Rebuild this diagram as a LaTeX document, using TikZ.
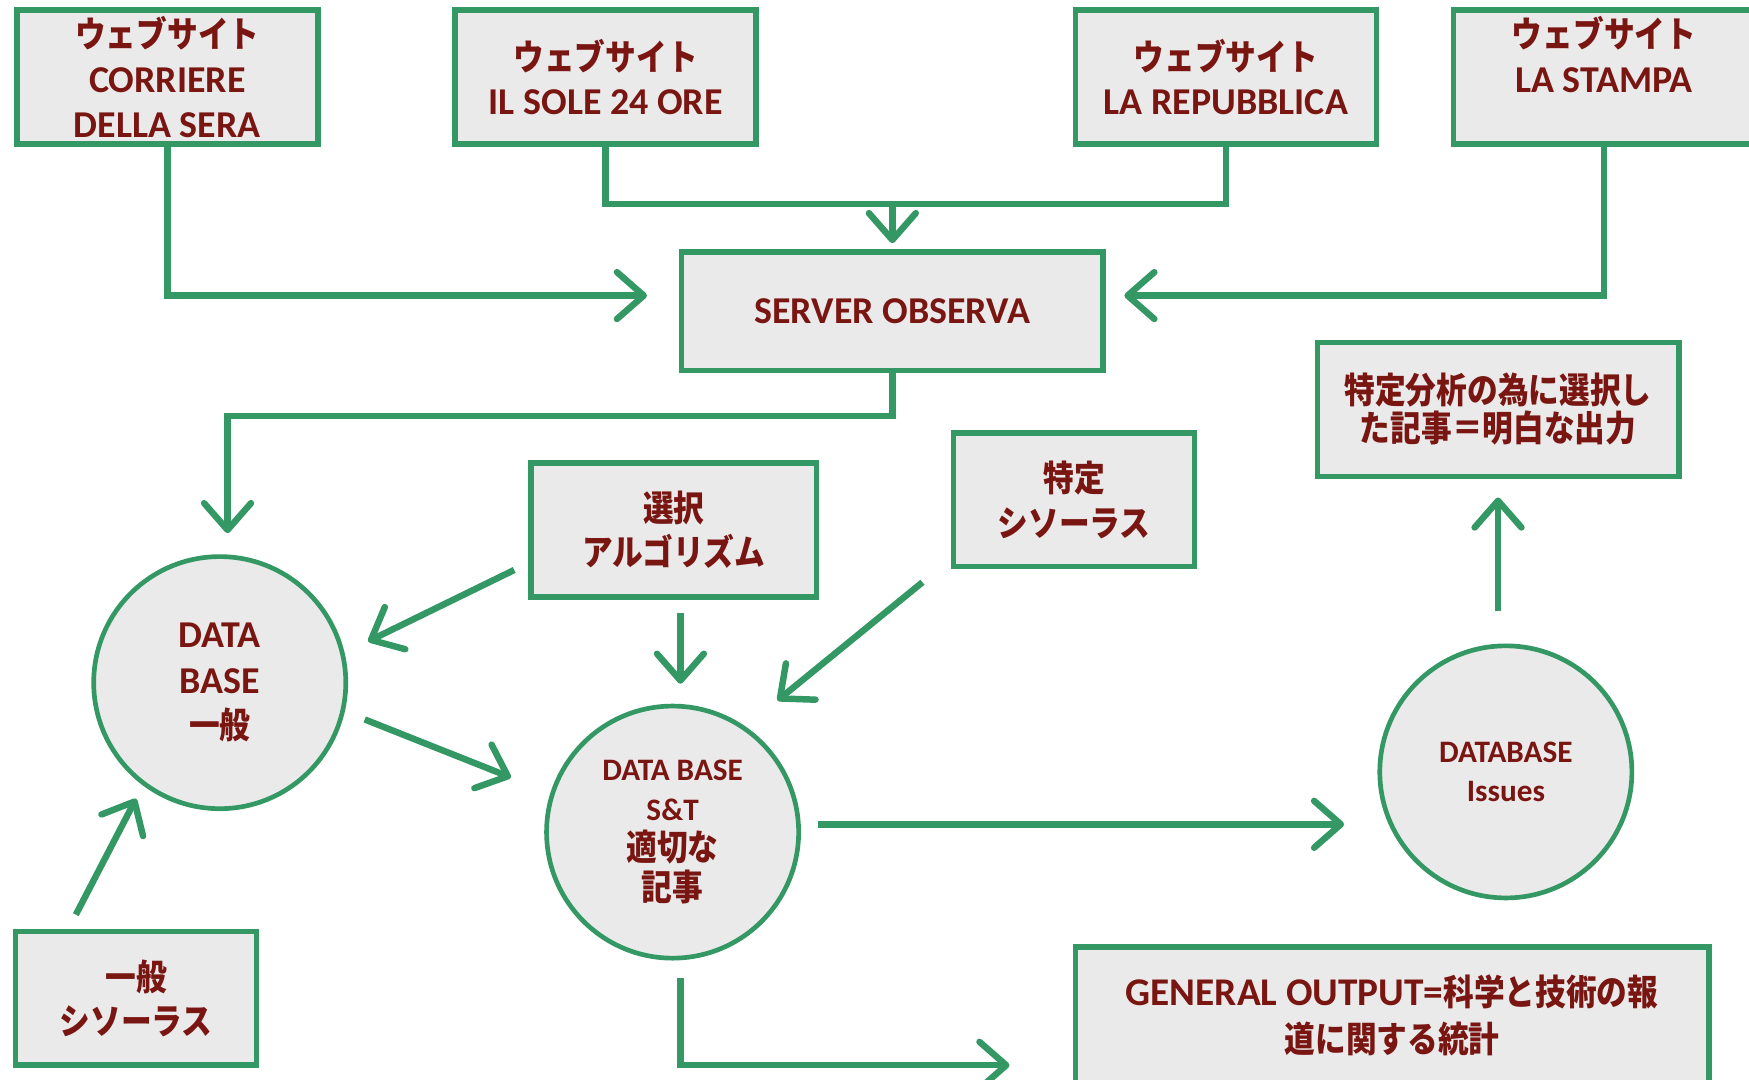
\documentclass[tikz,border=0pt]{standalone}
\usepackage{fontspec}
\setmainfont{Carlito}
\newfontfamily\jpfam[FakeStretch=0.86]{Noto Sans CJK JP}
\newcommand\jp{\fontsize{16}{20}\jpfam}
\newcommand\nfont[2]{\bfseries\fontsize{#1}{#2}\selectfont\lineskiplimit=-20pt\relax}
\usetikzlibrary{arrows.meta}
\definecolor{grn}{RGB}{52,152,100}
\definecolor{txt}{RGB}{122,22,18}
\definecolor{boxfill}{RGB}{234,234,234}
\begin{document}
\begin{tikzpicture}[x=0.5pt,y=-0.5pt,
  box/.style={draw=grn, line width=2.5pt, fill=boxfill, text=txt, align=center,
    font=\nfont{17}{20}, inner sep=0pt},
  dbcirc/.style={circle, draw=grn, line width=2.1pt, fill=boxfill, text=txt, align=center,
    minimum size=113pt, inner sep=0pt, font=\nfont{17}{20.5}},
  conn/.style={draw=grn, line width=2.9pt},
  arr/.style={conn, -{Straight Barb[length=12pt,width=21pt,line cap=round,line join=round]}}]
\clip (0,0) rectangle (1568,968);
\useasboundingbox (0,0) rectangle (1568,968);
\fill[white] (0,0) rectangle (1568,968);

% top website boxes
\node[box, minimum width=135pt, minimum height=60pt] (cor) at (150,69)
  {{\jp ウェブサイト}\\CORRIERE\\DELLA SERA};
\node[box, minimum width=135pt, minimum height=60pt] (sole) at (543,69)
  {{\jp ウェブサイト}\\IL SOLE 24 ORE};
\node[box, minimum width=135pt, minimum height=60pt] (rep) at (1099,69)
  {{\jp ウェブサイト}\\LA REPUBBLICA};
\node[box, minimum width=135pt, minimum height=60pt] (sta) at (1438,69)
  {{\jp ウェブサイト}\\LA STAMPA\\\mbox{}};

\node[box, minimum width=189pt, minimum height=53pt] (srv) at (800,279) {SERVER OBSERVA};

\node[box, minimum width=162pt, minimum height=60pt, font=\nfont{17}{17}] (spec) at (1343,367)
  {{\jp 特定分析の為に選択し}\\{\jp た記事＝明白な出力}};

\node[box, minimum width=128pt, minimum height=60pt] (sel) at (604,475)
  {{\jp 選択}\\{\jp アルゴリズム}};
\node[box, minimum width=108pt, minimum height=60pt] (tok) at (963,448)
  {{\jp 特定}\\{\jp シソーラス}};

\node[dbcirc] (dbg) at (197,612) {DATA\\BASE\\{\jp 一般}};
\node[dbcirc, font=\nfont{14}{18}] (dbs) at (603,746)
  {DATA BASE\\S\&T\\{\jp 適切な}\\{\jp 記事}};
\node[dbcirc, font=\nfont{14}{17.5}] (dbi) at (1350,692)
  {DATABASE\\Issues};

\node[box, minimum width=108pt, minimum height=60pt] (gth) at (122,895)
  {{\jp 一般}\\{\jp シソーラス}};
\node[box, minimum width=284pt, minimum height=61pt, font=\nfont{17.6}{21}] (gout) at (1248,910)
  {GENERAL OUTPUT={\jp 科学と技術の報}\\{\jp 道に関する統計}};

% connector points
\coordinate (a1) at (580,265);
\coordinate (j1) at (800,183);
\coordinate (a2) at (800,218);
\coordinate (a3) at (1008,265);
\coordinate (j2) at (204,373);
\coordinate (a4) at (204,478);
\coordinate (e1) at (461,511); \coordinate (e2) at (330,575);
\coordinate (f1) at (610,550); \coordinate (f2) at (610,613);
\coordinate (g1) at (827,522); \coordinate (g2) at (697,628);
\coordinate (h1) at (327,645); \coordinate (h2) at (458,697);
\coordinate (i1) at (68,820);  \coordinate (i2) at (122,716);
\coordinate (k1) at (733,739); \coordinate (k2) at (1205,739);
\coordinate (m1) at (1343,548); \coordinate (m2) at (1343,446);
\coordinate (n1) at (610,877); \coordinate (n2) at (610,955); \coordinate (n3) at (905,955);

\draw[arr] (cor.south) |- (a1);
\draw[conn] (sole.south) |- (j1) -| (rep.south);
\draw[arr] (j1) -- (a2);
\draw[arr] (sta.south) |- (a3);
\draw[arr] (srv.south) |- (j2) -- (a4);
\draw[arr] (e1) -- (e2);
\draw[arr] (f1) -- (f2);
\draw[arr] (g1) -- (g2);
\draw[arr] (h1) -- (h2);
\draw[arr] (i1) -- (i2);
\draw[arr] (k1) -- (k2);
\draw[arr] (m1) -- (m2);
\draw[arr] (n1) -- (n2) -- (n3);
\end{tikzpicture}
\end{document}
